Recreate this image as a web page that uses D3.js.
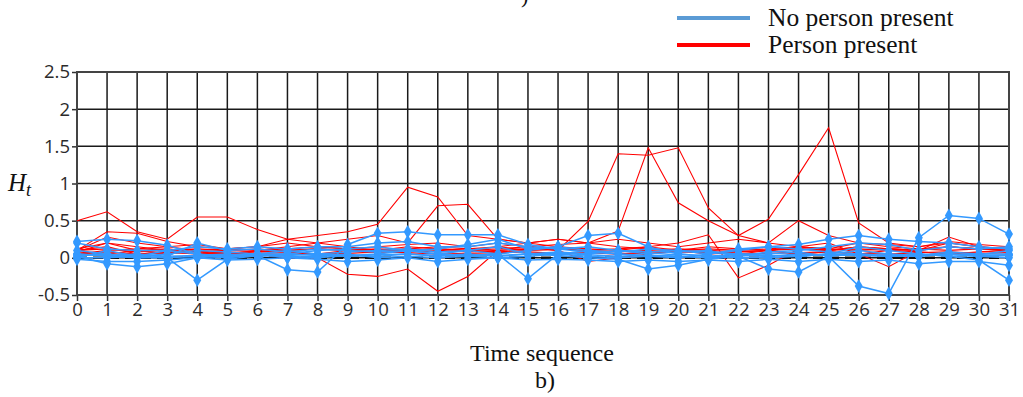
<!DOCTYPE html>
<html>
<head>
<meta charset="utf-8">
<script src="https://cdn.jsdelivr.net/npm/d3@7"></script>
<style>
  body { margin: 0; background: #fff; }
  svg { display: block; }
</style>
</head>
<body>
<div id="chart"></div>
<script>
// x positions (time sequence)
const timeSteps = d3.range(0, 32);
const yTicks = [-0.5, 0, 0.5, 1, 1.5, 2, 2.5];

// No person present (blue)
const noPerson1 = [0.05, 0.02, 0.0, 0.0, -0.3, -0.02, 0.03, 0.05, 0.03, 0.02, 0.04, 0.05, 0.02, 0.04, 0.03, 0.05, 0.06, 0.04, 0.02, 0.03, 0.02, 0.0, 0.03, 0.02, 0.05, 0.03, 0.04, 0.02, 0.05, 0.02, 0.03, 0.04];
const noPerson2 = [0.22, 0.25, 0.23, 0.17, 0.05, 0.02, 0.03, -0.16, -0.19, 0.18, 0.33, 0.35, 0.31, 0.31, 0.31, 0.18, 0.12, 0.08, 0.05, 0.02, 0.0, 0.05, 0.1, 0.15, 0.12, 0.08, 0.05, 0.03, 0.02, 0.05, 0.04, 0.1];
const noPerson3 = [0.02, -0.08, -0.12, -0.08, 0.0, 0.03, 0.05, 0.02, 0.0, 0.03, 0.05, 0.1, 0.05, 0.03, 0.05, -0.28, 0.05, 0.1, 0.05, 0.03, 0.02, 0.0, 0.05, 0.03, 0.02, 0.05, 0.03, 0.02, 0.03, 0.05, 0.02, 0.0];
const noPerson4 = [0.0, 0.1, 0.02, 0.0, 0.02, 0.0, 0.05, 0.1, 0.05, 0.08, 0.1, 0.12, 0.08, 0.1, 0.05, 0.1, 0.15, 0.3, 0.33, 0.15, 0.05, 0.02, 0.05, 0.03, 0.02, 0.05, 0.1, 0.05, 0.03, 0.08, 0.05, 0.05];
const noPerson5 = [0.05, 0.03, 0.05, 0.02, 0.03, 0.05, 0.02, 0.03, 0.05, 0.03, 0.02, 0.05, 0.03, 0.05, 0.02, 0.05, 0.03, 0.0, -0.02, -0.15, -0.1, -0.02, 0.02, -0.15, -0.19, 0.02, 0.05, 0.03, 0.02, 0.05, 0.02, 0.03];
const noPerson6 = [0.2, 0.12, 0.1, 0.1, 0.15, 0.12, 0.15, 0.12, 0.15, 0.15, 0.2, 0.22, 0.15, 0.15, 0.2, 0.15, 0.12, 0.15, 0.1, 0.08, 0.1, 0.08, 0.05, 0.05, 0.08, 0.02, -0.38, -0.48, 0.27, 0.57, 0.53, 0.32];
const noPerson7 = [0.0, 0.0, 0.02, 0.05, 0.1, 0.08, 0.05, 0.0, 0.02, 0.05, 0.0, 0.02, 0.0, 0.02, 0.0, 0.02, 0.05, 0.02, 0.0, 0.02, 0.05, 0.02, 0.0, 0.0, 0.02, 0.05, 0.15, 0.1, 0.05, 0.02, -0.03, -0.3];
const noPerson8 = [0.1, 0.05, 0.0, 0.02, 0.2, 0.1, 0.12, 0.08, 0.12, 0.1, 0.08, 0.1, 0.12, 0.18, 0.25, 0.12, 0.15, 0.1, 0.08, 0.12, 0.1, 0.05, 0.12, 0.15, 0.18, 0.25, 0.3, 0.25, 0.22, 0.2, 0.15, 0.12];
const noPerson9 = [0.03, 0.05, 0.02, 0.1, 0.05, 0.0, 0.05, 0.05, 0.1, 0.12, 0.15, 0.1, 0.05, 0.1, 0.15, 0.05, 0.08, 0.05, 0.1, 0.05, 0.08, 0.1, 0.02, 0.08, 0.1, 0.15, 0.2, 0.18, 0.1, 0.15, 0.12, 0.15];
const noPerson10 = [-0.02, -0.05, -0.05, -0.03, 0.0, -0.03, -0.02, 0.0, -0.02, -0.05, -0.03, 0.0, -0.05, -0.02, 0.0, -0.03, -0.02, -0.03, -0.05, -0.03, -0.05, -0.03, -0.05, -0.02, -0.05, -0.02, -0.05, -0.03, -0.08, -0.05, -0.05, -0.1];

// Person present (red)
const person1 = [0.5, 0.62, 0.35, 0.25, 0.55, 0.55, 0.38, 0.25, 0.2, 0.15, 0.1, 0.15, 0.12, 0.1, 0.15, 0.1, 0.12, 0.1, 0.08, 0.1, 0.12, 0.1, 0.08, 0.1, 0.12, 0.1, 0.15, 0.12, 0.1, 0.15, 0.12, 0.1];
const person2 = [0.1, 0.35, 0.33, 0.22, 0.15, 0.12, 0.15, 0.25, 0.3, 0.35, 0.45, 0.95, 0.82, 0.3, 0.25, 0.2, 0.15, 0.12, 0.1, 0.15, 0.1, 0.12, 0.1, 0.12, 0.15, 0.1, 0.12, 0.1, 0.12, 0.15, 0.12, 0.1];
const person3 = [0.08, 0.2, 0.1, 0.05, 0.1, 0.05, 0.1, 0.15, 0.2, 0.25, 0.3, 0.2, 0.7, 0.72, 0.25, 0.2, 0.25, 0.2, 0.15, 0.12, 0.1, 0.15, 0.12, 0.1, 0.15, 0.12, 0.1, 0.12, 0.1, 0.15, 0.12, 0.1];
const person4 = [0.1, 0.15, 0.05, 0.08, 0.05, 0.08, 0.05, 0.0, 0.0, -0.22, -0.25, -0.15, -0.45, -0.25, 0.1, 0.12, 0.15, 0.1, 0.05, 0.08, 0.1, 0.05, 0.08, 0.1, 0.05, 0.08, 0.05, 0.1, 0.08, 0.05, 0.08, 0.1];
const person5 = [0.12, 0.2, 0.15, 0.1, 0.12, 0.1, 0.08, 0.1, 0.12, 0.1, 0.08, 0.12, 0.1, 0.08, 0.1, 0.12, 0.1, 0.49, 1.4, 1.38, 1.48, 0.67, 0.3, 0.52, 1.12, 1.75, 0.47, 0.2, 0.15, 0.2, 0.15, 0.12];
const person6 = [0.05, 0.1, 0.12, 0.15, 0.1, 0.12, 0.1, 0.12, 0.15, 0.12, 0.1, 0.12, 0.15, 0.12, 0.15, 0.2, 0.25, 0.2, 0.36, 1.48, 0.74, 0.5, 0.3, 0.2, 0.5, 0.3, 0.2, 0.15, 0.12, 0.1, 0.12, 0.15];
const person7 = [0.1, 0.12, 0.08, 0.1, 0.08, 0.05, 0.08, 0.1, 0.12, 0.1, 0.08, 0.1, 0.12, 0.1, 0.08, 0.1, 0.12, 0.1, 0.12, 0.15, 0.2, 0.31, -0.27, -0.1, 0.12, 0.1, 0.15, 0.12, 0.1, 0.28, 0.15, 0.1];
const person8 = [0.08, 0.05, 0.1, 0.12, 0.08, 0.1, 0.12, 0.08, 0.05, 0.1, 0.12, 0.1, 0.08, 0.1, 0.12, 0.15, 0.1, -0.05, 0.0, 0.05, 0.1, 0.08, 0.05, 0.1, 0.15, 0.2, 0.05, -0.12, 0.1, 0.2, 0.15, 0.12];
const person9 = [0.1, 0.28, 0.2, 0.15, 0.18, 0.12, 0.15, 0.2, 0.15, 0.12, 0.15, 0.18, 0.2, 0.15, 0.2, 0.15, 0.18, 0.2, 0.25, 0.2, 0.15, 0.2, 0.25, 0.2, 0.15, 0.12, 0.2, 0.18, 0.15, 0.22, 0.18, 0.15];
const person10 = [0.05, 0.08, 0.05, 0.07, 0.06, 0.05, 0.06, 0.07, 0.05, 0.06, 0.08, 0.07, 0.05, 0.06, 0.07, 0.08, 0.06, 0.07, 0.05, 0.06, 0.08, 0.07, 0.05, 0.06, 0.07, 0.08, 0.06, 0.05, 0.07, 0.08, 0.06, 0.07];

const noPersonSeries = [noPerson1, noPerson2, noPerson3, noPerson4, noPerson5, noPerson6, noPerson7, noPerson8, noPerson9, noPerson10];
const personSeries = [person1, person2, person3, person4, person5, person6, person7, person8, person9, person10];

const legendLabels = ["No person present", "Person present"];

const W = 1023, H = 397;
const margin = { top: 72, right: 14, bottom: 102, left: 77 };
const width = W - margin.left - margin.right;
const height = H - margin.top - margin.bottom;

const blue = "#3399ff";
const red = "#ff0000";

const root = d3.select("#chart").append("svg")
  .attr("width", W)
  .attr("height", H);

const svg = root.append("g")
  .attr("transform", "translate(" + margin.left + "," + margin.top + ")");

const x = d3.scaleLinear().domain([0, 31]).range([0, width]);
const y = d3.scaleLinear().domain([-0.5, 2.5]).range([height, 0]);

// grid
svg.append("g").selectAll("line.vgrid")
  .data(timeSteps)
  .enter().append("line")
  .attr("x1", d => x(d)).attr("x2", d => x(d))
  .attr("y1", 0).attr("y2", height)
  .attr("stroke", "#1a1a1a").attr("stroke-width", 1.5);

svg.append("g").selectAll("line.hgrid")
  .data(yTicks)
  .enter().append("line")
  .attr("x1", 0).attr("x2", width)
  .attr("y1", d => y(d)).attr("y2", d => y(d))
  .attr("stroke", "#1a1a1a").attr("stroke-width", 1.5);

// zero line, dashed
svg.append("line")
  .attr("x1", 0).attr("x2", width)
  .attr("y1", y(0)).attr("y2", y(0))
  .attr("stroke", "#111").attr("stroke-width", 2.5)
  .attr("stroke-dasharray", "10,6");

// X axis
const xAxis = svg.append("g")
  .attr("transform", "translate(0," + height + ")")
  .call(d3.axisBottom(x).tickValues(timeSteps).tickFormat(d3.format("d")).tickSizeOuter(0).tickSize(6).tickPadding(2));

// Y axis
const yAxis = svg.append("g")
  .call(d3.axisLeft(y).tickValues(yTicks).tickFormat(d => d).tickSizeOuter(0).tickSize(5).tickPadding(2));

[xAxis, yAxis].forEach(a => {
  a.select(".domain").remove();
  a.selectAll(".tick line").attr("stroke", "#333").attr("stroke-width", 1.5);
  a.selectAll("text")
    .attr("fill", "#2b2b2b")
    .style("font-family", "'Open Sans', 'Noto Sans', sans-serif")
    .style("font-size", "18.5px");
});

// frame
svg.append("rect")
  .attr("x", 0).attr("y", 0)
  .attr("width", width).attr("height", height)
  .attr("fill", "none")
  .attr("stroke", "#444").attr("stroke-width", 2);

const line = d3.line()
  .x((d, i) => x(timeSteps[i]))
  .y(d => y(d));

// red series
svg.append("g").selectAll("path")
  .data(personSeries)
  .enter().append("path")
  .attr("d", d => line(d))
  .attr("fill", "none")
  .attr("stroke", red)
  .attr("stroke-width", 1.1);

// blue series with markers
const blueG = svg.append("g").selectAll("g")
  .data(noPersonSeries)
  .enter().append("g");

blueG.append("path")
  .attr("d", d => line(d))
  .attr("fill", "none")
  .attr("stroke", blue)
  .attr("stroke-width", 1.5);

const diamond = d3.symbol().type(d3.symbolDiamond).size(55);
blueG.selectAll("path.mk")
  .data(d => d.map((v, i) => ({ t: timeSteps[i], v: v })))
  .enter().append("path")
  .attr("class", "mk")
  .attr("d", diamond)
  .attr("transform", d => "translate(" + x(d.t) + "," + y(d.v) + ")")
  .attr("fill", blue);

// y label H_t
const yl = root.append("text")
  .attr("x", 8).attr("y", 191)
  .style("font-family", "'Liberation Serif', serif")
  .style("font-style", "italic")
  .style("font-size", "25px")
  .attr("fill", "#111");
yl.append("tspan").text("H");
yl.append("tspan").attr("dy", 5).style("font-size", "18px").text("t");

// x label
root.append("text")
  .attr("x", 542).attr("y", 361)
  .attr("text-anchor", "middle")
  .style("font-family", "'Liberation Serif', serif")
  .style("font-size", "24px")
  .attr("fill", "#111")
  .text("Time sequence");

root.append("text")
  .attr("x", 545).attr("y", 388)
  .attr("text-anchor", "middle")
  .style("font-family", "'Liberation Serif', serif")
  .style("font-size", "24px")
  .attr("fill", "#111")
  .text("b)");

// cut-off caption from panel above
root.append("text")
  .attr("x", 521).attr("y", 3)
  .style("font-family", "'Liberation Serif', serif")
  .style("font-size", "22px")
  .attr("fill", "#111")
  .text(")");

// legend
const legendColors = ["#5b9bd5", red];
const legend = root.selectAll("g.legend")
  .data(legendLabels)
  .enter().append("g")
  .attr("class", "legend")
  .attr("transform", (d, i) => "translate(0," + (18 + i * 27) + ")");

legend.append("line")
  .attr("x1", 677).attr("x2", 750)
  .attr("y1", 0).attr("y2", 0)
  .attr("stroke", (d, i) => legendColors[i])
  .attr("stroke-width", 4);

legend.append("text")
  .attr("x", 768).attr("y", 0)
  .attr("dy", "0.33em")
  .style("font-family", "'Liberation Serif', serif")
  .style("font-size", "25.5px")
  .attr("fill", "#111")
  .text(d => d);
</script>
</body>
</html>
